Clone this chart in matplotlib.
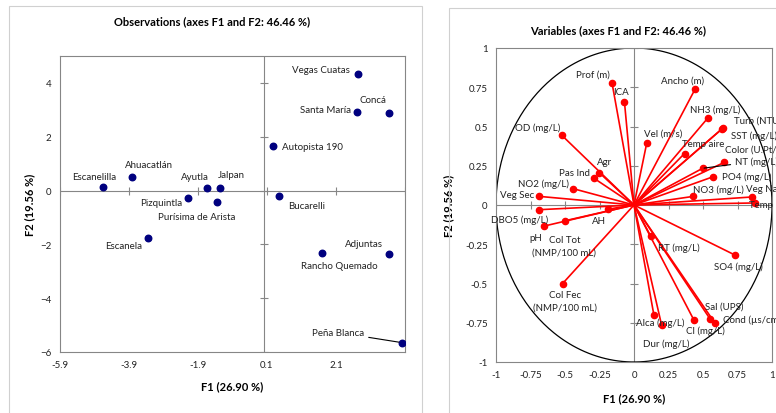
import numpy as np
import matplotlib
matplotlib.use("Agg")
import matplotlib.pyplot as plt
from matplotlib.patches import Rectangle

plt.rcParams['font.family'] = ['Lato', 'DejaVu Sans']

# Observations (F1, F2)
obs_names = ['Escanelilla', 'Ahuacatlán', 'Pizquintla', 'Ayutla', 'Jalpan',
             'Purísima de Arista', 'Escanela', 'Vegas Cuatas', 'Santa María',
             'Concá', 'Autopista 190', 'Bucarelli', 'Rancho Quemado',
             'Adjuntas', 'Peña Blanca']
obs_f1 = [-4.66, -3.81, -2.20, -1.65, -1.27, -1.34, -3.36, 2.75, 2.70,
          3.65, 0.28, 0.45, 1.70, 3.63, 4.00]
obs_f2 = [0.12, 0.49, -0.29, 0.09, 0.09, -0.43, -1.78, 4.34, 2.93,
          2.89, 1.64, -0.22, -2.31, -2.37, -5.65]

# Variables (loadings on F1, F2)
var_names = ['Prof (m)', 'ICA', 'OD (mg/L)', 'Agr', 'Pas Ind', 'NO2 (mg/L)',
             'Veg Sec', 'DBO5 (mg/L)', 'pH', 'Col Tot\n(NMP/100 mL)', 'AH',
             'Col Fec\n(NMP/100 mL)', 'Ancho (m)', 'NH3 (mg/L)', 'Turb (NTU)',
             'SST (mg/L)', 'Vel (m/s)', 'Temp aire', 'Color (U.Pt/Co)',
             'NT (mg/L)', 'PO4 (mg/L)', 'NO3 (mg/L)', 'Veg Nat', 'Temp (°C)',
             'RT (mg/L)', 'SO4 (mg/L)', 'Sal (UPS)', 'Cond (µs/cm)',
             'Cl (mg/L)', 'Alca (mg/L)', 'Dur (mg/L)']
var_f1 = [-0.159, -0.069, -0.522, -0.253, -0.293, -0.445, -0.688, -0.69,
          -0.65, -0.498, -0.192, -0.517, 0.445, 0.534, 0.643, 0.638, 0.092,
          0.366, 0.655, 0.498, 0.57, 0.431, 0.852, 0.879, 0.121, 0.732,
          0.549, 0.588, 0.433, 0.144, 0.20]
var_f2 = [0.776, 0.655, 0.443, 0.207, 0.172, 0.105, 0.055, -0.03, -0.134,
          -0.10, -0.027, -0.50, 0.742, 0.553, 0.489, 0.485, 0.393, 0.328,
          0.272, 0.234, 0.179, 0.055, 0.051, 0.013, -0.198, -0.319, -0.723,
          -0.754, -0.731, -0.70, -0.765]

# label offsets in pixels (dx, dy, ha) - dy positive = down
obs_off = [(-9, -11, 'center'), (17, -13, 'center'), (-5, 4, 'right'),
           (-12, -12, 'center'), (12, -14, 'center'), (-21, 14, 'center'),
           (-6, 7, 'right'), (-9, -4, 'right'), (-6, -2, 'right'),
           (-17, -13, 'center'), (9, 0, 'left'), (9, 9, 'left'),
           (17, 13, 'center'), (-25, -11, 'center'), (-37, -10, 'right')]
var_off = [(-19, -9, 'center'), (-3, -11, 'center'), (-24, -8, 'center'),
           (5, -11, 'center'), (-19, -5, 'center'), (-29, -5, 'center'),
           (-22, -2, 'center'), (-19, 10, 'center'), (-9, 11, 'center'),
           (-1, 19, 'center'), (-9, 11, 'center'), (2, 11, 'center'),
           (-13, -8, 'center'), (7, -9, 'center'), (11, -8, 'left'),
           (9, 6, 'left'), (16, -10, 'center'), (19, -10, 'center'),
           (1, -13, 'left'), (32, -7, 'left'), (9, -1, 'left'),
           (25, -7, 'center'), (-6, -8, 'left'), (-6, 1, 'left'),
           (28, 11, 'center'), (3, 11, 'center'), (14, -12, 'center'),
           (8, -4, 'left'), (12, 10, 'center'), (6, 7, 'center'),
           (5, 18, 'center')]

W, H = 776, 414
fig = plt.figure(figsize=(W / 100, H / 100), dpi=100)

# chart boxes like the spreadsheet frames
fig.patches.append(Rectangle((9 / W, -0.1), 413 / W, 1.1 - 7 / H,
                             transform=fig.transFigure, fill=False,
                             ec='#d0d0d0', lw=0.8))
fig.patches.append(Rectangle((449 / W, -0.1), 400 / W, 1.1 - 9 / H,
                             transform=fig.transFigure, fill=False,
                             ec='#d0d0d0', lw=0.8))

px2pt = 0.72
grey = '#868686'
tfs = 7


def style(ax):
    for s in ax.spines.values():
        s.set_color(grey)
        s.set_linewidth(0.8)
    ax.tick_params(length=0, labelsize=tfs, colors='#222222', pad=6)


# ---------------- observations ----------------
ax1 = fig.add_axes([60 / W, 61 / H, 345 / W, 296 / H])
style(ax1)
xt1 = [-5.9, -3.9, -1.9, 0.1, 2.1]
yt1 = [-6, -4, -2, 0, 2, 4]
ax1.set_xlim(-5.9, 4.1)
ax1.set_ylim(-6, 5)
ax1.set_xticks(xt1)
ax1.set_xticklabels([str(v) for v in xt1])
ax1.set_yticks(yt1)
ax1.axhline(0, color=grey, lw=0.8, zorder=1)
ax1.axvline(0, color=grey, lw=0.8, zorder=1)
ax1.plot(xt1 + [4.1], [0] * 6, ls='none', marker='|', ms=6, mew=0.8,
         color=grey, zorder=1)
ax1.plot([0] * len(yt1), yt1, ls='none', marker='_', ms=6, mew=0.8,
         color=grey, zorder=1)
ax1.scatter(obs_f1, obs_f2, s=22, color='#00007f', zorder=3)
for n, x, y, (dx, dy, ha) in zip(obs_names, obs_f1, obs_f2, obs_off):
    kw = {}
    if n == 'Peña Blanca':
        kw['arrowprops'] = dict(arrowstyle='-', color='black', lw=0.8,
                                shrinkA=1, shrinkB=2)
    ax1.annotate(n, (x, y), xytext=(dx * px2pt, -dy * px2pt),
                 textcoords='offset points', ha=ha, va='center',
                 fontsize=tfs, color='#222222', **kw)
fig.text(212 / W, 1 - 22 / H, 'Observations (axes F1 and F2: 46.46 %)',
         fontsize=8, fontweight='bold', ha='center', va='center')
ax1.set_xlabel('F1 (26.90 %)', fontsize=8, fontweight='bold', labelpad=8)
ax1.set_ylabel('F2 (19.56 %)', fontsize=8, fontweight='bold', labelpad=4)

# ---------------- variables ----------------
ax2 = fig.add_axes([496 / W, 51 / H, 276 / W, 314 / H])
style(ax2)
t2 = [-1, -0.75, -0.5, -0.25, 0, 0.25, 0.5, 0.75, 1]
lab2 = ['-1', '-0.75', '-0.5', '-0.25', '0', '0.25', '0.5', '0.75', '1']
ax2.set_xlim(-1, 1)
ax2.set_ylim(-1, 1)
ax2.set_xticks(t2)
ax2.set_xticklabels(lab2)
ax2.set_yticks(t2)
ax2.set_yticklabels(lab2)
ax2.axhline(0, color=grey, lw=0.8, zorder=1)
ax2.axvline(0, color=grey, lw=0.8, zorder=1)
ax2.plot(t2, [0] * len(t2), ls='none', marker='|', ms=6, mew=0.8,
         color=grey, zorder=1)
ax2.plot([0] * len(t2), t2, ls='none', marker='_', ms=6, mew=0.8,
         color=grey, zorder=1)
th = np.linspace(0, 2 * np.pi, 400)
ax2.plot(np.cos(th), np.sin(th), color='black', lw=0.9, zorder=2)
for x, y in zip(var_f1, var_f2):
    ax2.plot([0, x], [0, y], color='#ff0000', lw=1.2, zorder=3)
ax2.scatter(var_f1, var_f2, s=20, color='#ff0000', zorder=4)
for n, x, y, (dx, dy, ha) in zip(var_names, var_f1, var_f2, var_off):
    kw = {}
    if n == 'NT (mg/L)':
        kw['arrowprops'] = dict(arrowstyle='-', color='black', lw=0.8,
                                shrinkA=1, shrinkB=1)
    # two-line labels drawn line by line (12 px apart)
    for i, part in enumerate(n.split('\n')):
        ax2.annotate(part, (x, y),
                     xytext=(dx * px2pt, -(dy + 12.5 * i) * px2pt),
                     textcoords='offset points', ha=ha, va='center',
                     fontsize=tfs, color='#222222',
                     annotation_clip=False, zorder=5, **kw)
fig.text(618 / W, 1 - 31 / H, 'Variables (axes F1 and F2: 46.46 %)',
         fontsize=8, fontweight='bold', ha='center', va='center')
ax2.set_xlabel('F1 (26.90 %)', fontsize=8, fontweight='bold', labelpad=9)
ax2.set_ylabel('F2 (19.56 %)', fontsize=8, fontweight='bold', labelpad=8)

fig.savefig('out.png', dpi=100)
